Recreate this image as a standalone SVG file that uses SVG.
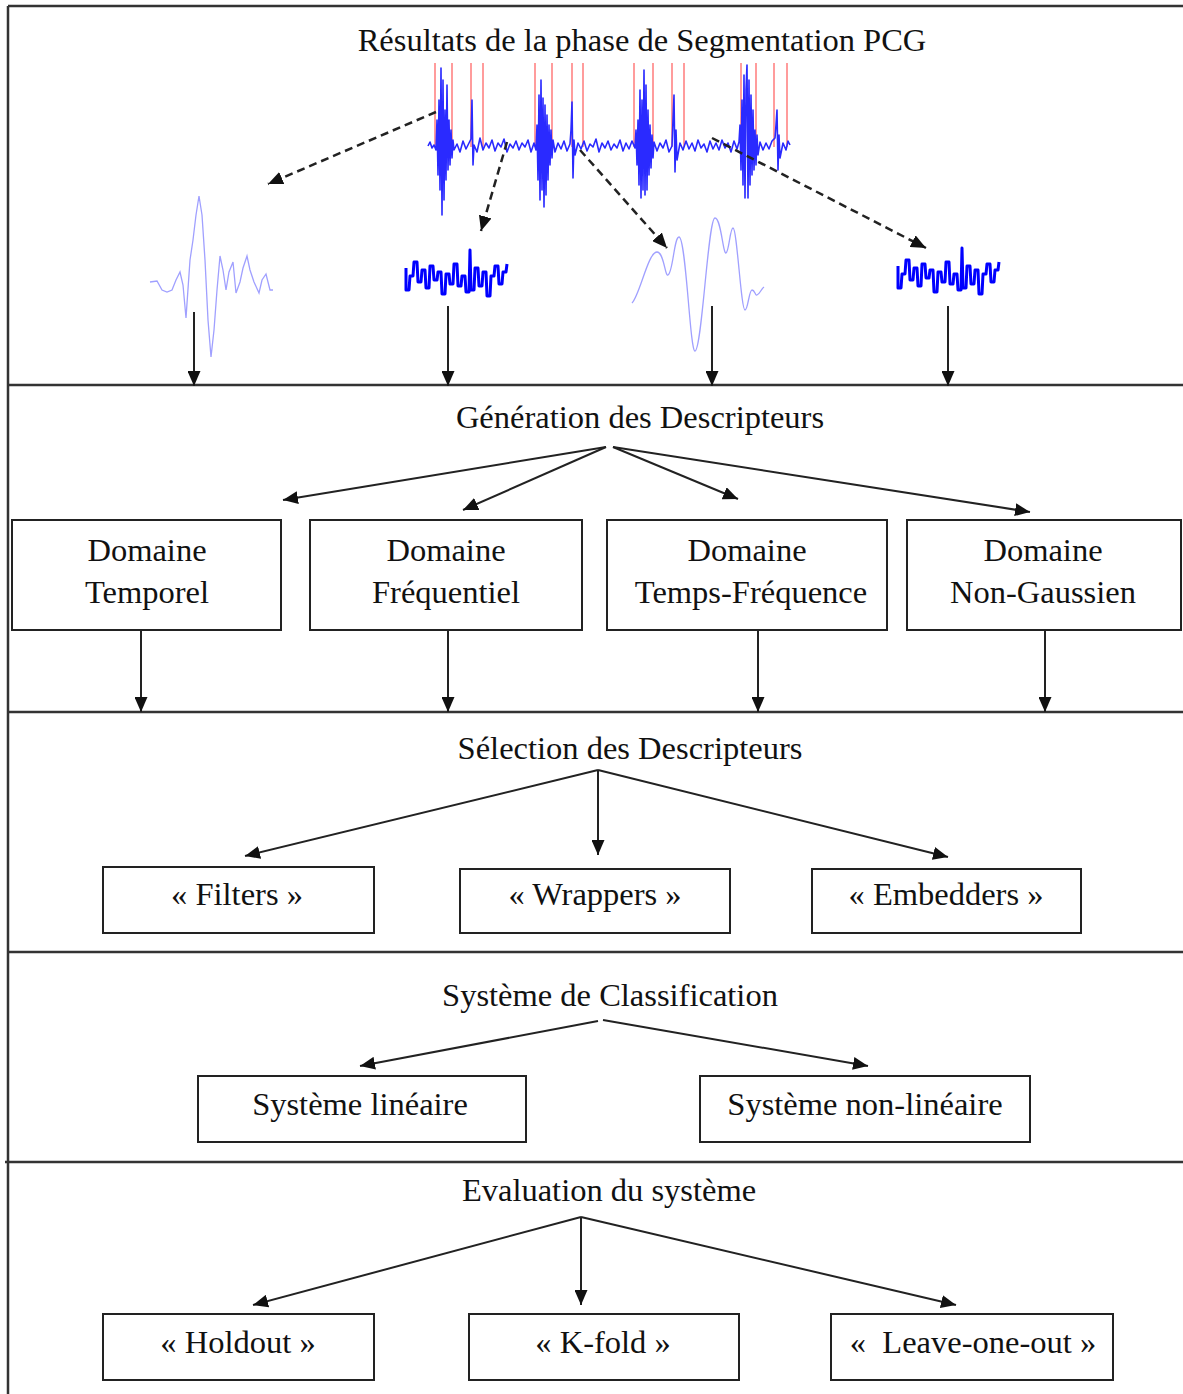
<svg xmlns="http://www.w3.org/2000/svg" width="1183" height="1394" viewBox="0 0 1183 1394">
<style>
.t{font-family:"Liberation Serif","Times New Roman",serif;font-size:32.5px;fill:#111;text-anchor:middle}
.box{fill:#fff;stroke:#222;stroke-width:2}
.frame{stroke:#333;stroke-width:2.5;fill:none}
.c{stroke:#222;stroke-width:2;fill:none;marker-end:url(#ah)}
.d{stroke:#222;stroke-width:2.5;stroke-dasharray:8 5;fill:none;marker-end:url(#ah)}
.red{stroke:#ff9c9c;stroke-width:2}
.sig{stroke:#2a2aff;stroke-width:1.6;fill:none;stroke-linejoin:round}
.noisy{stroke:#0000ff;stroke-width:3;fill:none;stroke-linejoin:round}
.light{stroke:#a0a0ff;stroke-width:1.3;fill:none}
</style>
<defs>
<marker id="ah" markerUnits="userSpaceOnUse" markerWidth="15" markerHeight="13" refX="15" refY="6.5" orient="auto">
<path d="M0,0 L15,6.5 L0,13 z" fill="#111"/>
</marker>
<polyline id="nz" points="406,268 406,290 409,290 410,276 413,276 414,262 417,262 418,282 421,282 422,270 425,270 426,288 429,288 430,266 433,266 434,280 437,280 438,272 441,272 442,294 445,294 446,274 449,274 450,284 453,284 454,264 457,264 458,286 461,286 462,276 465,276 466,292 469,292 470,250 471,290 474,290 475,268 478,268 479,286 482,286 483,272 486,272 487,296 490,296 491,276 494,276 495,266 498,266 499,284 502,284 503,272 506,272 507,264"/>
</defs>
<rect width="1183" height="1394" fill="#fff"/>

<g id="frame">
<line class="frame" x1="8" y1="6" x2="1183" y2="6"/>
<line class="frame" x1="8" y1="6" x2="8" y2="1394"/>
<line class="frame" x1="8" y1="385" x2="1183" y2="385"/>
<line class="frame" x1="8" y1="712" x2="1183" y2="712"/>
<line class="frame" x1="8" y1="952" x2="1183" y2="952"/>
<line class="frame" x1="5" y1="1162" x2="1183" y2="1162"/>
</g>

<g id="segmentation">
<text class="t" x="642" y="51">Résultats de la phase de Segmentation PCG</text>
<g id="segment-marks">
<line class="red" x1="435" y1="63" x2="435" y2="147"/><line class="red" x1="452" y1="63" x2="452" y2="147"/>
<line class="red" x1="471" y1="63" x2="471" y2="147"/><line class="red" x1="483" y1="63" x2="483" y2="147"/>
<line class="red" x1="535" y1="63" x2="535" y2="147"/><line class="red" x1="552" y1="63" x2="552" y2="147"/>
<line class="red" x1="572" y1="63" x2="572" y2="147"/><line class="red" x1="583" y1="63" x2="583" y2="147"/>
<line class="red" x1="634" y1="63" x2="634" y2="147"/><line class="red" x1="653" y1="63" x2="653" y2="147"/>
<line class="red" x1="672" y1="63" x2="672" y2="147"/><line class="red" x1="684" y1="63" x2="684" y2="147"/>
<line class="red" x1="741" y1="63" x2="741" y2="147"/><line class="red" x1="756" y1="63" x2="756" y2="147"/>
<line class="red" x1="774" y1="63" x2="774" y2="147"/><line class="red" x1="787" y1="63" x2="787" y2="147"/>
</g>
<polyline class="sig" points="428,146 430,142 432,148 434,145 436,150 437,120 438,175 439,100 440,190 441,68 442,215 443,80 444,200 445,110 446,180 447,85 448,170 449,120 450,165 451,130 452,158 453,140 454,150 457,144 460,152 463,141 466,149 469,143 471,139 472,100 473,165 474,145 477,152 480,138 483,150 486,143 489,148 492,140 495,151 498,143 501,147 504,139 507,152 510,144 513,148 516,141 519,150 522,143 525,147 528,140 531,152 534,143 536,150 537,125 538,180 539,95 540,200 541,80 542,190 543,98 544,207 545,105 546,195 547,115 548,180 549,125 550,165 551,130 552,158 553,140 555,152 558,143 561,149 564,141 567,151 570,144 571,130 572,102 573,178 574,140 575,155 578,143 581,149 584,141 587,151 590,144 593,147 596,139 599,152 602,143 605,148 608,141 611,150 614,144 617,148 620,140 623,151 626,143 629,149 632,141 635,148 636,130 637,165 638,120 639,185 640,90 641,198 642,100 643,190 644,70 645,195 646,85 647,190 648,110 649,175 650,125 651,168 652,135 653,158 654,142 657,151 660,143 663,148 666,140 669,152 672,146 673,120 674,95 675,172 676,130 677,160 680,143 683,150 686,141 689,149 692,143 695,151 698,140 701,148 704,144 707,152 710,141 713,149 716,143 719,150 722,140 725,148 728,143 731,152 734,141 737,149 739,142 740,125 741,170 742,100 743,185 744,75 745,198 746,90 747,65 748,198 749,80 750,185 751,95 752,175 753,110 754,170 755,130 756,165 757,135 758,155 760,142 763,150 766,143 769,149 772,141 775,138 776,125 777,110 778,170 779,135 780,158 783,143 786,150 788,141 790,145"/>
</g>

<g id="segment-s1">
<polyline class="light" points="150,282 157,281 162,290 167,292 172,290 176,280 180,272 183,285 186,318 190,260 193,240 196,215 199,196 202,215 205,260 208,320 211,357 214,330 217,290 220,256 223,270 226,290 229,272 233,262 236,293 240,282 243,268 247,256 250,270 254,282 259,293 262,280 266,274 270,290 273,290"/>
</g>
<g id="segment-systole1">
<use href="#nz" class="noisy"/>
</g>
<g id="segment-s2">
<path class="light" d="M632,303 C640,295 648,252 657,252 C664,252 665,277 668,275 C673,273 674,237 679,237 C686,237 690,352 695,351 C702,350 708,218 715,218 C721,218 723,254 726,253 C729,252 730,228 733,228 C737,228 741,310 745,310 C748,310 749,290 752,290 C755,290 755,296 757,295 C760,294 761,289 764,287"/>
</g>
<g id="segment-diastole">
<use href="#nz" class="noisy" transform="translate(492,-2)"/>
</g>

<g id="generation">
<text class="t" x="640" y="428">Génération des Descripteurs</text>
</g>
<g id="temporel">
<rect class="box" x="12" y="520" width="269" height="110"/>
<text class="t" x="147" y="561">Domaine</text>
<text class="t" x="147" y="603">Temporel</text>
</g>
<g id="frequentiel">
<rect class="box" x="310" y="520" width="272" height="110"/>
<text class="t" x="446" y="561">Domaine</text>
<text class="t" x="446" y="603">Fréquentiel</text>
</g>
<g id="temps-frequence">
<rect class="box" x="607" y="520" width="280" height="110"/>
<text class="t" x="747" y="561">Domaine</text>
<text class="t" x="751" y="603">Temps-Fréquence</text>
</g>
<g id="non-gaussien">
<rect class="box" x="907" y="520" width="274" height="110"/>
<text class="t" x="1043" y="561">Domaine</text>
<text class="t" x="1043" y="603">Non-Gaussien</text>
</g>

<g id="selection">
<text class="t" x="630" y="759">Sélection des Descripteurs</text>
</g>
<g id="filters">
<rect class="box" x="103" y="867" width="271" height="66"/>
<text class="t" x="237" y="905">« Filters »</text>
</g>
<g id="wrappers">
<rect class="box" x="460" y="869" width="270" height="64"/>
<text class="t" x="595" y="905">« Wrappers »</text>
</g>
<g id="embedders">
<rect class="box" x="812" y="869" width="269" height="64"/>
<text class="t" x="946" y="905">« Embedders »</text>
</g>

<g id="classification">
<text class="t" x="610" y="1006">Système de Classification</text>
</g>
<g id="lineaire">
<rect class="box" x="198" y="1076" width="328" height="66"/>
<text class="t" x="360" y="1115">Système linéaire</text>
</g>
<g id="non-lineaire">
<rect class="box" x="700" y="1076" width="330" height="66"/>
<text class="t" x="865" y="1115">Système non-linéaire</text>
</g>

<g id="evaluation">
<text class="t" x="609" y="1201">Evaluation du système</text>
</g>
<g id="holdout">
<rect class="box" x="103" y="1314" width="271" height="66"/>
<text class="t" x="238" y="1353">« Holdout »</text>
</g>
<g id="kfold">
<rect class="box" x="469" y="1314" width="270" height="66"/>
<text class="t" x="603" y="1353">« K-fold »</text>
</g>
<g id="leave-one-out">
<rect class="box" x="831" y="1314" width="282" height="66"/>
<text class="t" x="973" y="1353" xml:space="preserve">«  Leave-one-out »</text>
</g>

<g id="connectors">
<line class="d" x1="436" y1="112" x2="268" y2="184"/>
<line class="d" x1="507" y1="142" x2="481" y2="231"/>
<line class="d" x1="580" y1="150" x2="667" y2="248"/>
<line class="d" x1="712" y1="138" x2="926" y2="248"/>
<line class="c" x1="194" y1="312" x2="194" y2="386"/>
<line class="c" x1="448" y1="306" x2="448" y2="386"/>
<line class="c" x1="712" y1="306" x2="712" y2="386"/>
<line class="c" x1="948" y1="306" x2="948" y2="386"/>
<line class="c" x1="606" y1="447" x2="283" y2="500"/>
<line class="c" x1="606" y1="447" x2="463" y2="510"/>
<line class="c" x1="613" y1="447" x2="738" y2="499"/>
<line class="c" x1="613" y1="447" x2="1030" y2="512"/>
<line class="c" x1="141" y1="630" x2="141" y2="712"/>
<line class="c" x1="448" y1="630" x2="448" y2="712"/>
<line class="c" x1="758" y1="630" x2="758" y2="712"/>
<line class="c" x1="1045" y1="630" x2="1045" y2="712"/>
<line class="c" x1="598" y1="770" x2="245" y2="856"/>
<line class="c" x1="598" y1="770" x2="598" y2="855"/>
<line class="c" x1="598" y1="770" x2="948" y2="857"/>
<line class="c" x1="598" y1="1021" x2="360" y2="1066"/>
<line class="c" x1="603" y1="1020" x2="868" y2="1066"/>
<line class="c" x1="581" y1="1217" x2="253" y2="1305"/>
<line class="c" x1="581" y1="1217" x2="581" y2="1305"/>
<line class="c" x1="581" y1="1217" x2="956" y2="1305"/>
</g>
</svg>
